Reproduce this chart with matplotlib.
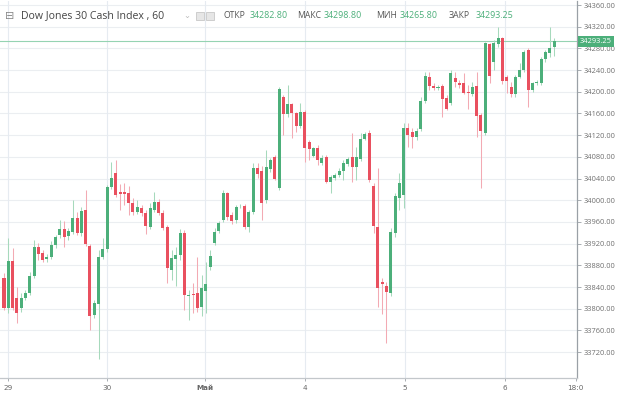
import numpy as np
import matplotlib
matplotlib.use("Agg")
import matplotlib.pyplot as plt
from matplotlib.patches import Rectangle

# ---------------- data ----------------
opens = [33857, 33801, 33888, 33820, 33801, 33820, 33829, 33860, 33914, 33903,
         33892, 33895, 33917, 33936, 33947, 33934, 33941, 33967, 33940, 33982,
         33916, 33788, 33809, 33895, 33910, 34024, 34050, 34015, 34015, 34013,
         33995, 33978, 33986, 33976, 33951, 33982, 33997, 33976, 33951, 33871,
         33892, 33899, 33940, 33823, 33826, 33829, 33803, 33833, 33877, 33921,
         33943, 33964, 34013, 33973, 33964, 33989, 33990, 33951, 33978, 34059,
         34054, 34000, 34058, 34080, 34022, 34190, 34159, 34177, 34161, 34137,
         34163, 34107, 34082, 34096, 34069, 34080, 34034, 34041, 34046, 34054,
         34067, 34080, 34061, 34076, 34113, 34124, 34026, 33951, 33849, 33842,
         33829, 33940, 34004, 34010, 34133, 34126, 34117, 34131, 34183, 34227,
         34211, 34207, 34211, 34188, 34179, 34225, 34216, 34216, 34200, 34196,
         34211, 34157, 34124, 34288, 34255, 34288, 34299, 34227, 34209, 34196,
         34227, 34240, 34277, 34203, 34216, 34216, 34260, 34271, 34282.80]
highs = [33866, 33930, 33912, 33840, 33829, 33834, 33868, 33927, 33921, 33908,
         33901, 33925, 33936, 33964, 33962, 33949, 34000, 33978, 33988, 34019,
         33919, 33816, 33908, 33930, 34028, 34070, 34074, 34030, 34032, 34026,
         34004, 34000, 33991, 33982, 33995, 34015, 34002, 33982, 33954, 33908,
         33914, 33947, 33945, 33834, 33847, 33895, 33862, 33886, 33908, 33949,
         33962, 34019, 34015, 33978, 33991, 33993, 33993, 33982, 34069, 34069,
         34063, 34093, 34078, 34083, 34209, 34194, 34212, 34179, 34163, 34179,
         34166, 34111, 34098, 34102, 34083, 34083, 34046, 34050, 34059, 34074,
         34080, 34124, 34098, 34124, 34126, 34129, 34032, 34059, 33857, 33849,
         33949, 34013, 34050, 34142, 34142, 34133, 34133, 34190, 34236, 34236,
         34216, 34212, 34214, 34194, 34240, 34236, 34222, 34235, 34212, 34218,
         34236, 34161, 34292, 34290, 34295, 34319, 34301, 34231, 34218, 34231,
         34253, 34277, 34281, 34218, 34222, 34264, 34277, 34319, 34298.80]
lows = [33798, 33792, 33798, 33774, 33794, 33816, 33825, 33857, 33890, 33886,
        33886, 33892, 33912, 33930, 33914, 33927, 33938, 33936, 33934, 33916,
        33761, 33783, 33708, 33892, 33905, 34021, 34006, 33982, 33991, 33973,
        33973, 33975, 33971, 33938, 33947, 33978, 33973, 33945, 33847, 33853,
        33842, 33890, 33798, 33779, 33792, 33794, 33787, 33792, 33871, 33917,
        33940, 33960, 33964, 33956, 33958, 33986, 33947, 33941, 33975, 34041,
        33964, 33995, 34052, 34037, 34019, 34120, 34153, 34115, 34126, 34133,
        34070, 34074, 34080, 34065, 34065, 34032, 34013, 34037, 34043, 34037,
        34063, 34034, 34037, 34072, 34111, 34034, 33940, 33803, 33790, 33737,
        33823, 33932, 33982, 33986, 34098, 34096, 34111, 34128, 34179, 34203,
        34203, 34203, 34153, 34166, 34176, 34209, 34207, 34196, 34168, 34192,
        34117, 34022, 34120, 34216, 34240, 34282, 34214, 34198, 34190, 34190,
        34225, 34236, 34172, 34200, 34212, 34212, 34255, 34264, 34265.80]
closes = [33801, 33888, 33801, 33792, 33820, 33829, 33860, 33914, 33901, 33890,
          33895, 33917, 33932, 33947, 33932, 33943, 33967, 33940, 33980, 33919,
          33787, 33811, 33895, 33910, 34024, 34041, 34010, 34011, 34011, 33995,
          33978, 33988, 33976, 33952, 33986, 33997, 33976, 33949, 33875, 33893,
          33899, 33940, 33825, 33826, 33825, 33801, 33838, 33846, 33897, 33941,
          33958, 34013, 33969, 33962, 33988, 33990, 33951, 33978, 34059, 34048,
          33995, 34061, 34074, 34039, 34205, 34159, 34177, 34161, 34137, 34163,
          34096, 34094, 34096, 34074, 34078, 34034, 34043, 34046, 34054, 34069,
          34076, 34061, 34080, 34113, 34122, 34037, 33952, 33838, 33846, 33831,
          33941, 34008, 34032, 34133, 34120, 34117, 34128, 34183, 34229, 34211,
          34207, 34209, 34187, 34168, 34235, 34218, 34212, 34198, 34198, 34209,
          34155, 34128, 34290, 34229, 34290, 34299, 34220, 34220, 34196, 34227,
          34240, 34273, 34203, 34216, 34218, 34260, 34273, 34281, 34293.25]

day_labels = ["29", "30", "Май", "4", "5", "6", "18:0"]
day_pos = [0.9, 24.0, 46.8, 70.0, 93.3, 116.6, 133.0]
price_ticks = list(range(33720, 34361, 40))

title = "Dow Jones 30 Cash Index , 60"
ohlc_names = ["ОТКР", "МАКС", "МИН", "ЗАКР"]
ohlc_vals = ["34282.80", "34298.80", "34265.80", "34293.25"]
last_price = 34293.25

# ---------------- style ----------------
GREEN = "#4caf7a"
RED = "#e9505f"
GREEN_W = "#a6d9bc"
RED_W = "#f3aab3"
W, H = 620, 396

plt.rcParams['font.family'] = ['Open Sans', 'DejaVu Sans']

fig = plt.figure(figsize=(W / 100, H / 100), dpi=100, facecolor="white")

def fx(px):
    return px / W

def fy(py):
    return 1 - py / H

ax = fig.add_axes([0.0, fy(378), fx(577), fy(1) - fy(378)])
ax.set_facecolor("white")

x = np.arange(len(opens))
o = np.array(opens, float)
h = np.array(highs, float)
l = np.array(lows, float)
c = np.array(closes, float)
up = c >= o

# grid
for p in price_ticks:
    ax.axhline(p, color="#ebeef1", lw=0.8, zorder=0)
for p in day_pos[:-1]:
    ax.axvline(p, color="#e6ebf1", lw=0.8, zorder=0)

# current price line
ax.axhline(last_price, color="#95d3b2", lw=0.8, zorder=1)

# wicks
ax.vlines(x[up], l[up], h[up], color=GREEN_W, lw=0.75, zorder=2)
ax.vlines(x[~up], l[~up], h[~up], color=RED_W, lw=0.75, zorder=2)
# bodies
bh = np.maximum(np.abs(c - o), 1.2)
bb = np.minimum(o, c)
ax.bar(x[up], bh[up], bottom=bb[up], width=0.7, color=GREEN, zorder=3, linewidth=0)
ax.bar(x[~up], bh[~up], bottom=bb[~up], width=0.7, color=RED, zorder=3, linewidth=0)

ax.set_xlim(-4 / 4.297, (577 - 4) / 4.297)
ax.set_ylim(33672.2, 34367.4)

# axes styling
for s in ["top", "left"]:
    ax.spines[s].set_visible(False)
ax.spines["right"].set_color("#9aa0a6")
ax.spines["bottom"].set_color("#c3c7cb")
ax.spines["right"].set_linewidth(0.9)
ax.spines["bottom"].set_linewidth(0.9)

ax.yaxis.tick_right()
ax.set_yticks(price_ticks)
ax.set_yticklabels([f"{p:.2f}" for p in price_ticks])
ax.tick_params(axis="y", direction="out", length=3, width=0.6, color="#9aa0a6",
               labelsize=5.4, labelcolor="#707070", pad=2)
ax.set_xticks(day_pos)
ax.set_xticklabels(day_labels)
ax.tick_params(axis="x", direction="out", length=2.5, width=0.6, color="#9aa0a6",
               labelsize=5.6, labelcolor="#666666", pad=2.5)
for lbl in ax.get_xticklabels():
    lbl.set_family(["DejaVu Sans"])
    lbl.set_fontsize(5.2)
    if lbl.get_text() == "Май":
        lbl.set_fontweight("bold")

# last price label box
ax.annotate("34293.25", xy=(1.0, last_price), xycoords=("axes fraction", "data"),
            xytext=(2, 0), textcoords="offset points", ha="left", va="center",
            fontsize=5.4, color="white", zorder=10, annotation_clip=False,
            bbox=dict(boxstyle="square,pad=0.25", fc="#4caf7a", ec="none"))

# header
fig.text(fx(5), fy(16), "⊟", fontsize=8, color="#888888", va="center", ha="left",
         family=["DejaVu Sans"])
fig.text(fx(21), fy(16), title, fontsize=7.6, color="#444444", va="center", ha="left")
fig.text(fx(183), fy(16), "⌄", fontsize=6, color="#bbbbbb", va="center", ha="left",
         family=["DejaVu Sans"])
for px0 in (196, 206):
    fig.patches.append(Rectangle((fx(px0), fy(20)), fx(8), fy(12) - fy(20),
                                 transform=fig.transFigure, fc="#e6e6e6",
                                 ec="#c8c8c8", lw=0.6))
name_x = [223, 297, 376, 449]
val_x = [250, 324, 400, 476]
for nx, vx, n, v in zip(name_x, val_x, ohlc_names, ohlc_vals):
    fig.text(fx(nx), fy(16), n, fontsize=6.2, color="#555555", va="center", ha="left")
    fig.text(fx(vx), fy(16), v, fontsize=6.4, color="#4caf7a", va="center", ha="left")

fig.savefig("out.png", dpi=100, facecolor="white")
